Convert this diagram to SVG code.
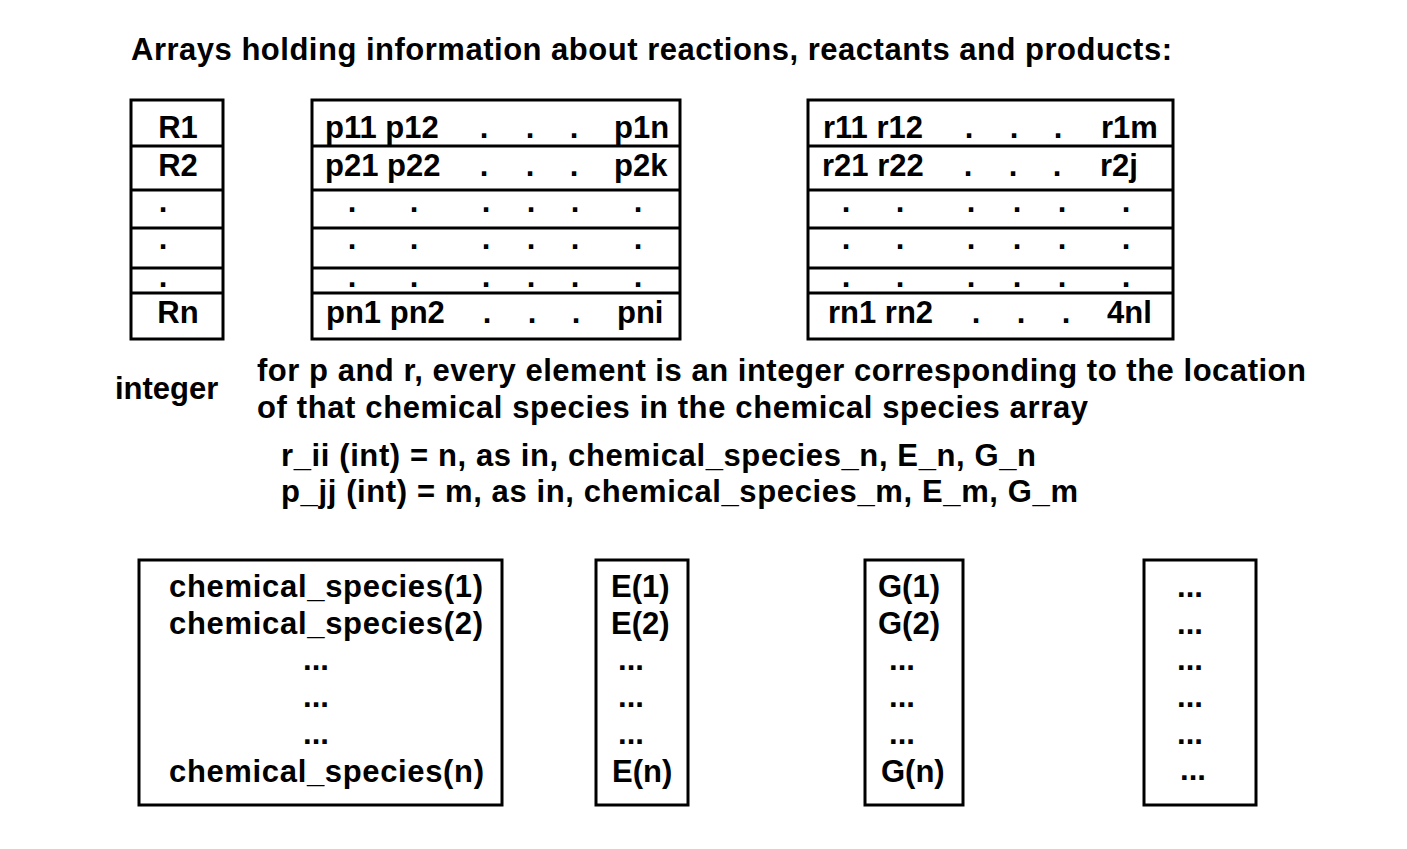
<svg xmlns="http://www.w3.org/2000/svg" width="1407" height="849" viewBox="0 0 1407 849">
<style>
text{font-family:"Liberation Sans",Arial,sans-serif;font-weight:bold;font-size:31px;fill:#000}
.m{text-anchor:middle}
.box{fill:#fff;stroke:#000;stroke-width:3}
.ln{stroke:#000;stroke-width:3}
</style>
<rect width="1407" height="849" fill="#fff"/>
<text id="title" x="131" y="60" textLength="1041" lengthAdjust="spacing">Arrays holding information about reactions, reactants and products:</text>

<g id="R-array">
<rect class="box" x="131" y="100" width="92" height="239"/>
<line class="ln" x1="131" y1="146" x2="223" y2="146"/>
<line class="ln" x1="131" y1="190" x2="223" y2="190"/>
<line class="ln" x1="131" y1="228" x2="223" y2="228"/>
<line class="ln" x1="131" y1="268" x2="223" y2="268"/>
<line class="ln" x1="131" y1="293" x2="223" y2="293"/>
<text class="m" x="178" y="138">R1</text>
<text class="m" x="178" y="176">R2</text>
<text class="m" x="163" y="212">.</text>
<text class="m" x="163" y="249">.</text>
<text class="m" x="163" y="287">.</text>
<text class="m" x="178" y="323">Rn</text>
</g>

<g id="p-array">
<rect class="box" x="312" y="100" width="368" height="239"/>
<line class="ln" x1="312" y1="146" x2="680" y2="146"/>
<line class="ln" x1="312" y1="190" x2="680" y2="190"/>
<line class="ln" x1="312" y1="228" x2="680" y2="228"/>
<line class="ln" x1="312" y1="268" x2="680" y2="268"/>
<line class="ln" x1="312" y1="293" x2="680" y2="293"/>
<text x="325" y="138">p11 p12</text>
<text class="m" x="484" y="138">.</text><text class="m" x="530" y="138">.</text><text class="m" x="574" y="138">.</text>
<text x="614" y="138">p1n</text>
<text x="325" y="176">p21 p22</text>
<text class="m" x="484" y="176">.</text><text class="m" x="530" y="176">.</text><text class="m" x="574" y="176">.</text>
<text x="614" y="176">p2k</text>
<g>
<text class="m" x="352" y="212">.</text><text class="m" x="414" y="212">.</text><text class="m" x="486" y="212">.</text><text class="m" x="531" y="212">.</text><text class="m" x="575" y="212">.</text><text class="m" x="638" y="212">.</text>
<text class="m" x="352" y="249">.</text><text class="m" x="414" y="249">.</text><text class="m" x="486" y="249">.</text><text class="m" x="531" y="249">.</text><text class="m" x="575" y="249">.</text><text class="m" x="638" y="249">.</text>
<text class="m" x="352" y="287">.</text><text class="m" x="414" y="287">.</text><text class="m" x="486" y="287">.</text><text class="m" x="531" y="287">.</text><text class="m" x="575" y="287">.</text><text class="m" x="638" y="287">.</text>
</g>
<text x="326" y="323">pn1 pn2</text>
<text class="m" x="487" y="323">.</text><text class="m" x="532" y="323">.</text><text class="m" x="576" y="323">.</text>
<text x="617" y="323">pni</text>
</g>

<g id="r-array">
<rect class="box" x="808" y="100" width="365" height="239"/>
<line class="ln" x1="808" y1="146" x2="1173" y2="146"/>
<line class="ln" x1="808" y1="190" x2="1173" y2="190"/>
<line class="ln" x1="808" y1="228" x2="1173" y2="228"/>
<line class="ln" x1="808" y1="268" x2="1173" y2="268"/>
<line class="ln" x1="808" y1="293" x2="1173" y2="293"/>
<text x="823" y="138">r11 r12</text>
<text class="m" x="969" y="138">.</text><text class="m" x="1014" y="138">.</text><text class="m" x="1058" y="138">.</text>
<text x="1101" y="138">r1m</text>
<text x="822" y="176">r21 r22</text>
<text class="m" x="968" y="176">.</text><text class="m" x="1013" y="176">.</text><text class="m" x="1057" y="176">.</text>
<text x="1100" y="176">r2j</text>
<g>
<text class="m" x="846" y="212">.</text><text class="m" x="900" y="212">.</text><text class="m" x="971" y="212">.</text><text class="m" x="1017" y="212">.</text><text class="m" x="1062" y="212">.</text><text class="m" x="1126" y="212">.</text>
<text class="m" x="846" y="249">.</text><text class="m" x="900" y="249">.</text><text class="m" x="971" y="249">.</text><text class="m" x="1017" y="249">.</text><text class="m" x="1062" y="249">.</text><text class="m" x="1126" y="249">.</text>
<text class="m" x="846" y="287">.</text><text class="m" x="900" y="287">.</text><text class="m" x="971" y="287">.</text><text class="m" x="1017" y="287">.</text><text class="m" x="1062" y="287">.</text><text class="m" x="1126" y="287">.</text>
</g>
<text x="828" y="323">rn1 rn2</text>
<text class="m" x="976" y="323">.</text><text class="m" x="1021" y="323">.</text><text class="m" x="1066" y="323">.</text>
<text x="1107" y="323">4nl</text>
</g>

<g id="notes">
<text x="115" y="399">integer</text>
<text x="257" y="381" textLength="1049" lengthAdjust="spacing">for p and r, every element is an integer corresponding to the location</text>
<text x="257" y="418" textLength="831" lengthAdjust="spacing">of that chemical species in the chemical species array</text>
<text x="281" y="466" textLength="755" lengthAdjust="spacing">r_ii (int) = n, as in, chemical_species_n, E_n, G_n</text>
<text x="281" y="502" textLength="797" lengthAdjust="spacing">p_jj (int) = m, as in, chemical_species_m, E_m, G_m</text>
</g>

<g id="species-array">
<rect class="box" x="139" y="560" width="363" height="245"/>
<text x="169" y="597" textLength="314" lengthAdjust="spacing">chemical_species(1)</text>
<text x="169" y="634" textLength="314" lengthAdjust="spacing">chemical_species(2)</text>
<text class="m" x="316" y="670">...</text>
<text class="m" x="316" y="707">...</text>
<text class="m" x="316" y="744">...</text>
<text x="169" y="782" textLength="315" lengthAdjust="spacing">chemical_species(n)</text>
</g>

<g id="E-array">
<rect class="box" x="596" y="560" width="92" height="245"/>
<text x="611" y="597">E(1)</text>
<text x="611" y="634">E(2)</text>
<text class="m" x="631" y="670">...</text>
<text class="m" x="631" y="707">...</text>
<text class="m" x="631" y="744">...</text>
<text x="612" y="782">E(n)</text>
</g>

<g id="G-array">
<rect class="box" x="865" y="560" width="98" height="245"/>
<text x="878" y="597">G(1)</text>
<text x="878" y="634">G(2)</text>
<text class="m" x="902" y="670">...</text>
<text class="m" x="902" y="707">...</text>
<text class="m" x="902" y="744">...</text>
<text x="881" y="782">G(n)</text>
</g>

<g id="other-array">
<rect class="box" x="1144" y="560" width="112" height="245"/>
<text class="m" x="1190" y="597">...</text>
<text class="m" x="1190" y="634">...</text>
<text class="m" x="1190" y="670">...</text>
<text class="m" x="1190" y="707">...</text>
<text class="m" x="1190" y="744">...</text>
<text class="m" x="1193" y="780">...</text>
</g>
</svg>
